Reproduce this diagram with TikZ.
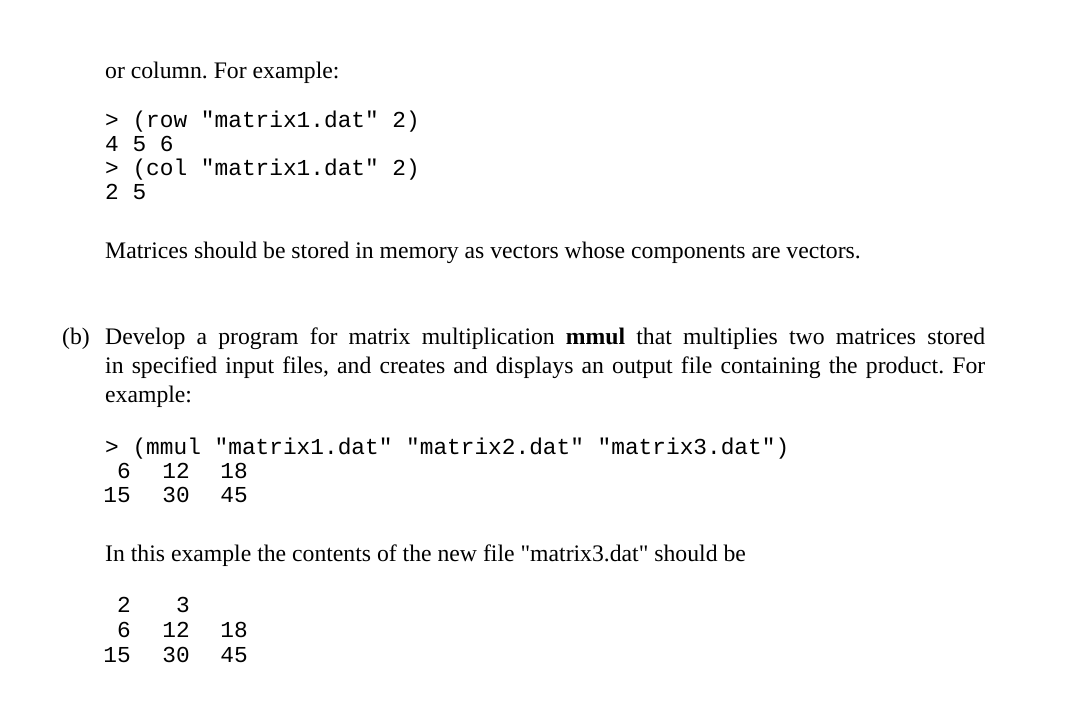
\documentclass[tikz,border=0pt]{standalone}
\usepackage{fontspec}
\setmainfont{Liberation Serif}
\setmonofont{Liberation Mono}
\frenchspacing
\begin{document}
\begin{tikzpicture}[x=1pt,y=-1pt,
  txt/.style={anchor=base west,inner sep=0pt,font=\fontsize{23.7}{29}\selectfont},
  code/.style={anchor=base west,inner sep=0pt,font=\fontsize{22.8}{24}\ttfamily},
  num/.style={anchor=base east,inner sep=0pt,font=\fontsize{22.8}{24}\ttfamily}]
\useasboundingbox (0,0) rectangle (1084,728);
\node[txt] (t1) at (105,78) {or column. For example:};
\node[code] (c1) at (105,127) {> (row "matrix1.dat" 2)};
\node[code] (c2) at (105,151) {4 5 6};
\node[code] (c3) at (105,175) {> (col "matrix1.dat" 2)};
\node[code] (c4) at (105,199) {2 5};
\node[txt] (t2) at (105,258) {Matrices should be stored in memory as vectors whose components are vectors.};
\node[txt] (b) at (62,344) {(b)};
\node[txt,text width=880pt,align=justify] (p) at (105,344) {Develop a program for matrix multiplication \textbf{mmul} that multiplies two matrices stored\linebreak in specified input files, and creates and displays an output file containing the product. For\linebreak example:};
\node[code] (m1) at (105,454) {> (mmul "matrix1.dat" "matrix2.dat" "matrix3.dat")};
\node[num] (a1) at (131,478) {6};
\node[num] (a2) at (190,478) {12};
\node[num] (a3) at (248,478) {18};
\node[num] (a4) at (131,502) {15};
\node[num] (a5) at (190,502) {30};
\node[num] (a6) at (248,502) {45};
\node[txt] (t3) at (105,561) {In this example the contents of the new file \textquotedbl matrix3.dat\textquotedbl\ should be};
\node[num] (d1) at (131,612) {2};
\node[num] (d2) at (190,612) {3};
\node[num] (d3) at (131,637) {6};
\node[num] (d4) at (190,637) {12};
\node[num] (d5) at (248,637) {18};
\node[num] (d6) at (131,662) {15};
\node[num] (d7) at (190,662) {30};
\node[num] (d8) at (248,662) {45};
\end{tikzpicture}
\end{document}
